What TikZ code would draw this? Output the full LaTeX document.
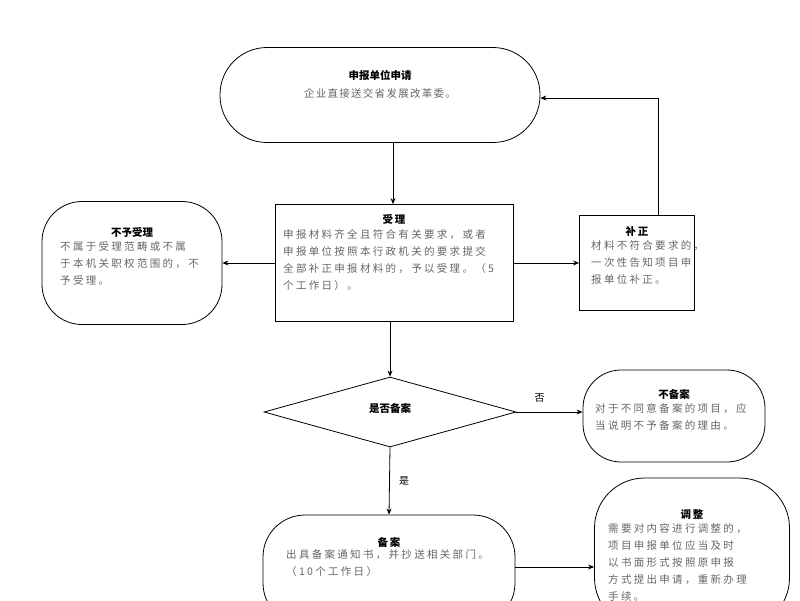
\documentclass[tikz,border=0pt]{standalone}
\usepackage{fontspec}
\setmainfont{Noto Sans CJK SC}
\usetikzlibrary{shapes.geometric,arrows.meta}
\begin{document}
\begin{tikzpicture}[x=1pt,y=-1pt,
 box/.style={draw,line width=0.8pt,fill=white},
 arr/.style={-{Stealth[length=6pt,width=5pt]},line width=0.8pt},
 tt/.style={font=\fontsize{10.5}{12}\selectfont\bfseries},
 bd/.style={font=\fontsize{10.5}{17}\selectfont\addfontfeature{LetterSpace=22},text=black!60,align=left,anchor=north west,inner sep=0}]
\useasboundingbox (0,0) rectangle (800,600);
\node[box,rounded corners=47,minimum width=320,minimum height=95] (a) at (380,95) {};
\node[tt] at (380,75) {申报单位申请};
\node[font=\fontsize{10.5}{12}\selectfont\addfontfeature{LetterSpace=12},text=black!60] at (380,93) {企业直接送交省发展改革委。};
\node[box,minimum width=238,minimum height=117] (b) at (394,263) {};
\node[tt] at (394,219) {受\,理};
\node[bd] at (283,229) {申报材料齐全且符合有关要求，或者\\申报单位按照本行政机关的要求提交\\全部补正申报材料的，予以受理。（5\\个工作日）。};
\node[box,rounded corners=40,minimum width=180,minimum height=123] (c) at (132,263) {};
\node[tt] at (132,232) {不予受理};
\node[bd] at (60,241) {不属于受理范畴或不属\\于本机关职权范围的，不\\予受理。};
\node[box,minimum width=115,minimum height=95] (d) at (637,263) {};
\node[tt] at (637,231) {补\,正};
\node[bd] at (591,240) {材料不符合要求的，\\一次性告知项目申\\报单位补正。};
\node[box,diamond,aspect=3.6,minimum width=252,minimum height=70,inner sep=0] (e) at (390,412) {};
\node[tt] at (390,408) {是否备案};
\node[box,rounded corners=38,minimum width=182,minimum height=92] (f) at (674,416) {};
\node[tt] at (674,394) {不备案};
\node[bd] at (595,403) {对于不同意备案的项目，应\\当说明不予备案的理由。};
\node[box,rounded corners=42,minimum width=252,minimum height=110] (g) at (389,570) {};
\node[tt] at (389,542) {备\,案};
\node[bd] at (286,549) {出具备案通知书，并抄送相关部门。\\（10个工作日）};
\node[box,rounded corners=50,minimum width=195,minimum height=150] (h) at (692,553) {};
\node[tt] at (692,515) {调\,整};
\node[bd] at (608,523) {需要对内容进行调整的，\\项目申报单位应当及时\\以书面形式按照原申报\\方式提出申请，重新办理\\手续。};
\draw[arr] (a.south -| 393,0) -- (b.north -| 393,0);
\draw[arr] (b.west) -- (c.east);
\draw[arr] (b.east) -- (d.west);
\draw[arr] (d.north -| 658,0) -- (658,98) -- (a.east |- 0,98);
\draw[arr] (b.south -| 390,0) -- (e.north);
\draw[arr] (e.east) -- node[above=6pt,pos=0.35,font=\fontsize{10}{11}\selectfont]{否} (f.west |- e.east);
\draw[arr] (e.south) -- node[right=6pt,font=\fontsize{10}{11}\selectfont]{是} (g.north);
\draw[arr] (g.east |- 0,567) -- (h.west |- 0,567);
\end{tikzpicture}
\end{document}
